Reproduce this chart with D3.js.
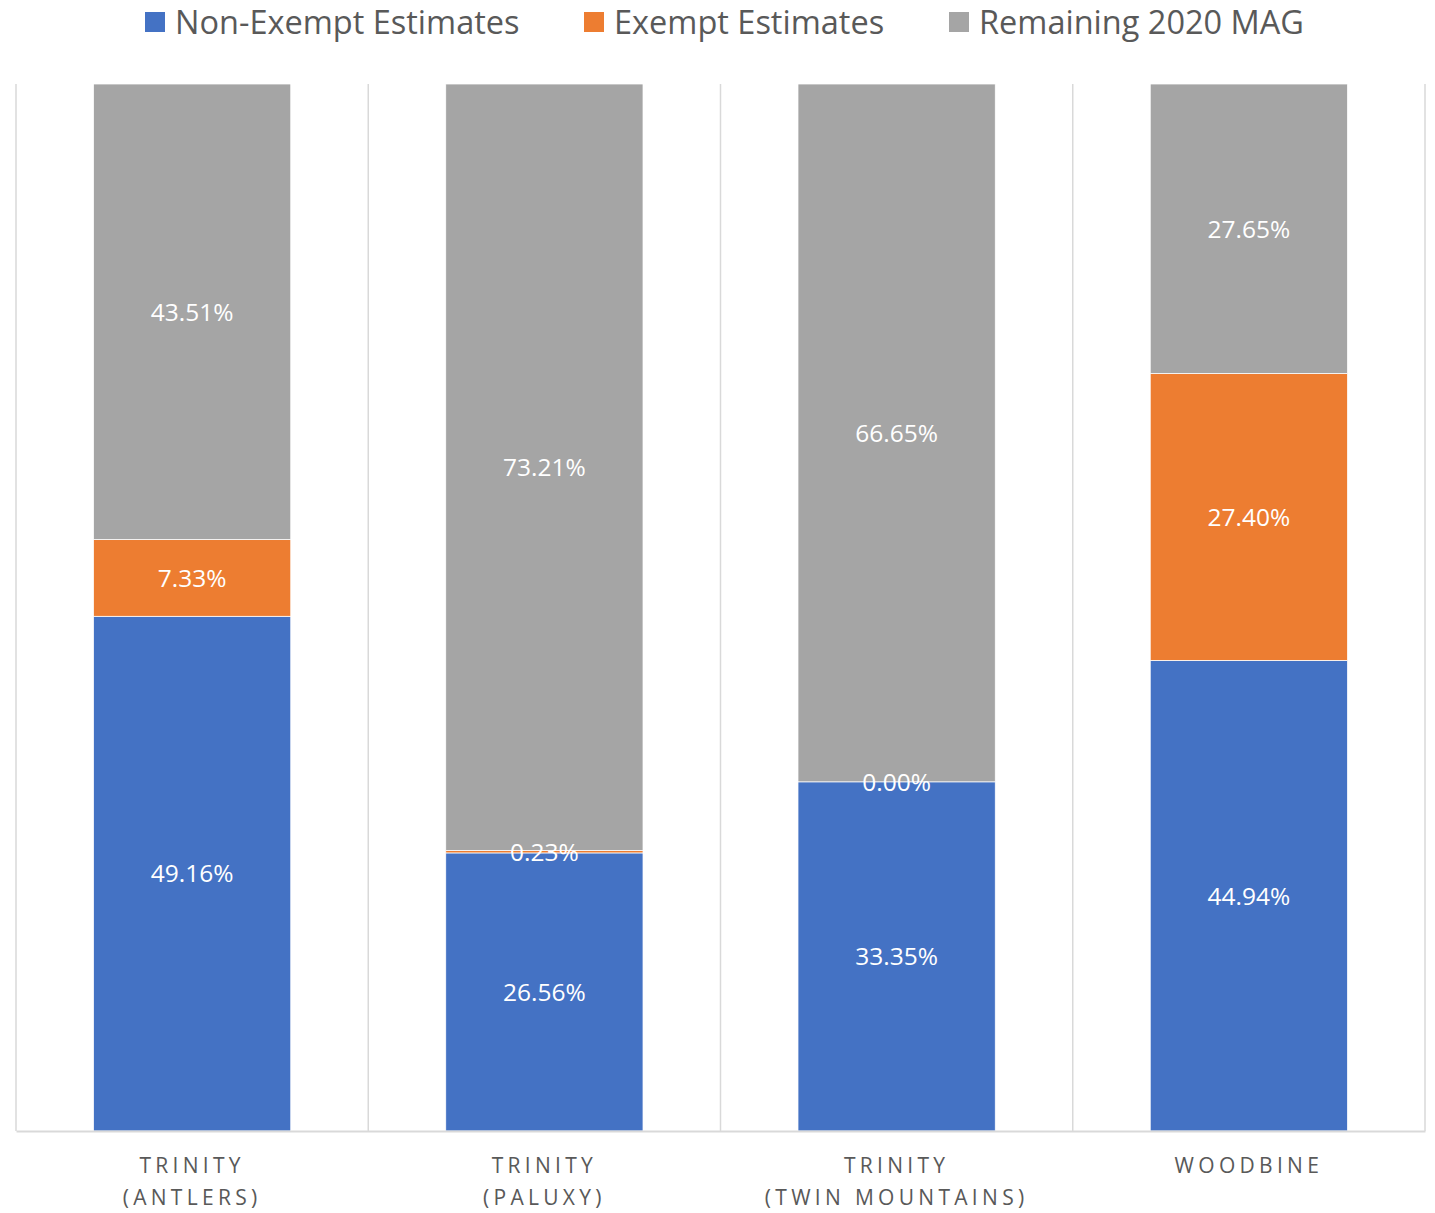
<!DOCTYPE html>
<html>
<head>
<meta charset="utf-8">
<script src="https://cdn.jsdelivr.net/npm/d3@7"></script>
<style>
  body { margin: 0; background: #fff; }
  svg text { font-family: "Open Sans", "Noto Sans", sans-serif; }
</style>
</head>
<body>
<svg id="drawing_region"></svg>
<script>
// data
const categories = ['TRINITY\n(ANTLERS)', 'TRINITY\n(PALUXY)', 'TRINITY\n(TWIN MOUNTAINS)', 'WOODBINE'];
const seriesNames = ['Non-Exempt Estimates', 'Exempt Estimates', 'Remaining 2020 MAG'];
const nonExempt = [49.16, 26.56, 33.35, 44.94];
const exempt = [7.33, 0.23, 0.00, 27.40];
const remaining = [43.51, 73.21, 66.65, 27.65];
const colors = ['#4472c4', '#ed7d31', '#a5a5a5'];

const width = 1435, height = 1213;
const margin = {top: 84, right: 10, bottom: 82, left: 16};

const svg = d3.select('#drawing_region')
    .attr('width', width)
    .attr('height', height);

const innerW = width - margin.left - margin.right;
const innerH = height - margin.top - margin.bottom;

const chart = svg.append('g')
    .attr('transform', `translate(${margin.left}, ${margin.top})`);

// rows for the stack (100% stacked)
const rows = categories.map((c, i) => {
    const total = nonExempt[i] + exempt[i] + remaining[i];
    return {
        cat: c,
        s0: nonExempt[i] / total,
        s1: exempt[i] / total,
        s2: remaining[i] / total,
        raw: [nonExempt[i], exempt[i], remaining[i]]
    };
});
const stack = d3.stack().keys(['s0', 's1', 's2'])(rows);

// scales
const xcell = d3.scaleBand().domain(categories).range([0, innerW]).padding(0);
const xbar = d3.scaleBand().domain(categories).range([0, innerW])
    .paddingInner(0.44).paddingOuter(0.22);
const yscale = d3.scaleLinear().domain([0, 1]).range([innerH, 0]);

// vertical gridlines between categories
const bounds = categories.map(c => xcell(c)).concat([innerW]);
chart.append('g').selectAll('line').data(bounds).join('line')
    .attr('x1', d => d).attr('x2', d => d)
    .attr('y1', 0).attr('y2', innerH)
    .attr('stroke', '#d9d9d9').attr('stroke-width', 1.5);

// bars
const layers = chart.append('g').selectAll('g').data(stack).join('g')
    .attr('fill', (d, i) => colors[i]);
layers.selectAll('rect').data(d => d).join('rect')
    .attr('x', d => xbar(d.data.cat))
    .attr('width', xbar.bandwidth())
    .attr('y', d => yscale(d[1]))
    .attr('height', d => yscale(d[0]) - yscale(d[1]))
    .attr('stroke', '#fff').attr('stroke-width', 0.75);

// data labels
stack.forEach((layer, si) => {
    chart.append('g').selectAll('text').data(layer).join('text')
        .attr('x', d => xbar(d.data.cat) + xbar.bandwidth() / 2)
        .attr('y', d => yscale((d[0] + d[1]) / 2))
        .attr('dy', '0.36em')
        .attr('text-anchor', 'middle')
        .attr('fill', '#fff')
        .attr('font-size', 24.5)
        .text(d => d.data.raw[si].toFixed(2) + '%');
});

// x axis
const xaxis = d3.axisBottom(xcell).tickSize(0).tickFormat('');
const xg = chart.append('g')
    .attr('transform', `translate(0, ${innerH})`)
    .call(xaxis);
xg.select('.domain').attr('stroke', '#d9d9d9').attr('stroke-width', 2);

const labels = chart.append('g').selectAll('text').data(categories).join('text')
    .attr('x', d => xcell(d) + xcell.bandwidth() / 2)
    .attr('y', innerH + 42)
    .attr('text-anchor', 'middle')
    .attr('fill', '#595959')
    .attr('font-size', 21)
    .attr('letter-spacing', 4.3);
labels.selectAll('tspan').data(d => d.split('\n')).join('tspan')
    .attr('x', function() { return this.parentNode.getAttribute('x'); })
    .attr('dy', (d, i) => i === 0 ? 0 : 32)
    .text(d => d);

// legend
const legendX = [145, 584, 949];
const legend = svg.append('g').selectAll('g').data(seriesNames).join('g')
    .attr('transform', (d, i) => `translate(${legendX[i]}, 12)`);
legend.append('rect')
    .attr('width', 20).attr('height', 20)
    .attr('fill', (d, i) => colors[i]);
legend.append('text')
    .attr('x', 30).attr('y', 10)
    .attr('dy', '0.36em')
    .attr('fill', '#595959')
    .attr('font-size', 32.5)
    .text(d => d);
</script>
</body>
</html>
